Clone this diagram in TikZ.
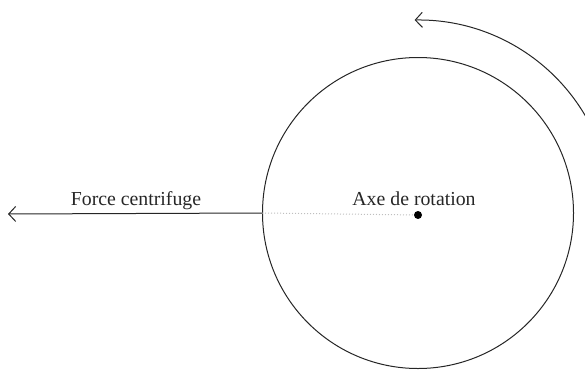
\documentclass[tikz,border=0pt]{standalone}
\usepackage{fontspec}
\setmainfont{Liberation Serif}
\usetikzlibrary{arrows.meta}
\begin{document}
\begin{tikzpicture}[x=1pt,y=-1pt,
  lbl/.style={font=\fontsize{19.8}{23}\selectfont, text=black!85, inner sep=0pt},
  tip/.style={-{Straight Barb[length=7pt,width=15pt]}},
  line/.style={line width=1pt, draw=black!85}]
\useasboundingbox (0,0) rectangle (585,369);
\clip (0,0) rectangle (585,369);
\node[circle, line, minimum size=311pt, inner sep=0pt] (disc) at (418,213) {};
\node[circle, fill=black, minimum size=8pt, inner sep=0pt] (axis) at (418,215) {};
\draw[dotted, gray!50, line width=1pt] (disc.west) -- (axis);
\coordinate (forceend) at (8,214);
\draw[line, tip] (disc.west) -- (forceend);
\node[lbl, anchor=base] (flabel) at (136,205) {Force centrifuge};
\node[lbl, anchor=base] (alabel) at (414,205) {Axe de rotation};
\coordinate (arcstart) at ([shift={(-25:194)}]418,214);
\draw[line, tip] (arcstart) arc[start angle=-25, end angle=-91, radius=194];
\end{tikzpicture}
\end{document}
